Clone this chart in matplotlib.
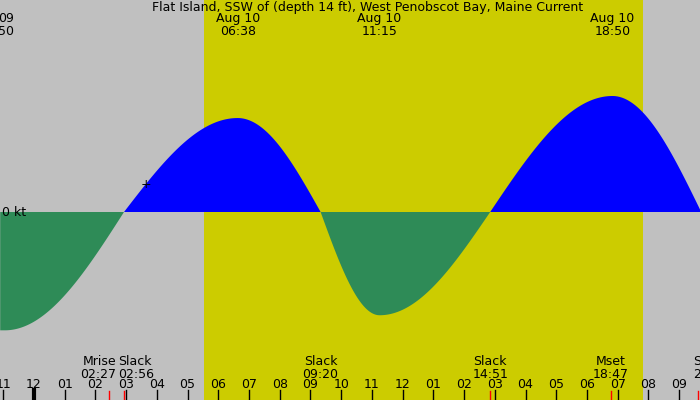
import numpy as np
import matplotlib
matplotlib.use("Agg")
import matplotlib.pyplot as plt

# current events: hour-of-day (Aug 10), speed in kt
event_hours = [-0.95, 2.93, 6.63, 9.33, 11.25, 14.85, 18.83, 21.72]
event_speeds = [-1.02, 0.0, 0.81, 0.0, -0.89, 0.0, 1.0, 0.0]
sunrise, sunset = 5.53, 19.83
hour_labels = ["11","12","01","02","03","04","05","06","07","08","09","10","11","12","01","02","03","04","05","06","07","08","09"]
hour_ticks = list(range(-1, 22))
bottom_events = [(2.67, "Mrise\n02:27", 'right'), (2.73, "Slack\n02:56", 'left'),
                 (9.33, "Slack\n09:20", 'center'), (14.85, "Slack\n14:51", 'center'),
                 (18.78, "Mset\n18:47", 'center'), (21.45, "Slack\n21:", 'left')]
red_marks = [2.45, 2.93, 14.85, 18.78, 21.6]
top_events = [(-0.9, "09\n50"), (6.63, "Aug 10\n06:38"), (11.25, "Aug 10\n11:15"), (18.83, "Aug 10\n18:50")]

t = np.linspace(-1.1, 21.7, 2000)
v = np.zeros_like(t)
for i in range(len(event_hours) - 1):
    t0, t1 = event_hours[i], event_hours[i+1]
    a, b = event_speeds[i], event_speeds[i+1]
    m = (t >= t0) & (t <= t1)
    f = (t[m] - t0) / (t1 - t0)
    if a == 0:
        v[m] = b * np.sin(np.pi / 2 * f)
    else:
        v[m] = a * np.cos(np.pi / 2 * f)
m = t < event_hours[0]
v[m] = event_speeds[0]

fig = plt.figure(figsize=(7, 4), dpi=100, facecolor='#c0c0c0')
ax = fig.add_axes([0, 0, 1, 1])
ax.set_xlim(-1.107, 21.68)
ax.set_ylim(-188/116, 212/116)
ax.axvspan(sunrise, sunset, color='#cccc00', lw=0)
ax.fill_between(t, 0, v, where=v >= 0, color='#0000ff', lw=0)
ax.fill_between(t, 0, v, where=v <= 0, color='#2e8b57', lw=0)
ax.axis('off')

py = 116.0
def ypix(p):
    return (212 - p) / py

for h, lab in zip(hour_ticks, hour_labels):
    ax.plot([h, h], [ypix(390), ypix(400)], color='black', lw=3 if lab == "12" and h == 0 else 1)
    ax.text(h, ypix(385), lab, ha='center', va='center', fontsize=9)
for h in red_marks:
    ax.plot([h, h], [ypix(391), ypix(400)], color='red', lw=1)
for h, lab, ha in bottom_events:
    ax.text(h, ypix(368), lab, ha=ha, va='center', fontsize=9, linespacing=0.95)
for h, lab in top_events:
    ax.text(h, ypix(25), lab, ha='center', va='center', fontsize=9, linespacing=0.95)
ax.text(10.85, ypix(7), "Flat Island, SSW of (depth 14 ft), West Penobscot Bay, Maine Current",
        ha='center', va='center', fontsize=9)
ax.text(-1.05, 0, "0 kt", ha='left', va='center', fontsize=9)
ax.text(3.65, ypix(184), "+", ha='center', va='center', fontsize=9)
fig.savefig("out.png", dpi=100, facecolor='#c0c0c0')
